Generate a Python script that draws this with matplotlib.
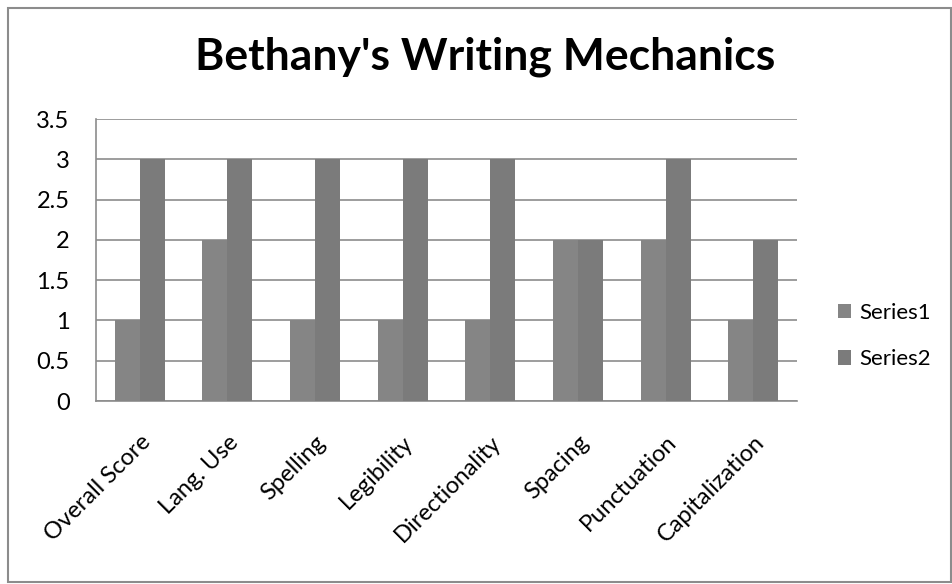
import matplotlib.pyplot as plt
import matplotlib.patches as patches
import numpy as np

categories = ["Overall Score", "Lang. Use", "Spelling", "Legibility",
              "Directionality", "Spacing", "Punctuation", "Capitalization"]
series1 = [1, 2, 1, 1, 1, 2, 2, 1]
series2 = [3, 3, 3, 3, 3, 2, 3, 2]
yticks = [0, 0.5, 1, 1.5, 2, 2.5, 3, 3.5]

plt.rcParams['font.family'] = ['Lato', 'DejaVu Sans']

W, H = 953, 584
fig = plt.figure(figsize=(W / 100, H / 100), dpi=100)
# plot area in pixels: left 96, right 797, top 119, bottom 401
ax = fig.add_axes([96 / W, 1 - 401 / H, 701 / W, 282 / H])

x = np.arange(len(categories))
w = 1 / 3.5
ax.bar(x - w / 2, series1, width=w, color='#858585', label='Series1', zorder=3)
ax.bar(x + w / 2, series2, width=w, color='#7b7b7b', label='Series2', zorder=3)

ax.set_xlim(-0.5, len(categories) - 0.5)
ax.set_ylim(0, 3.5)
ax.set_yticks(yticks)
ax.set_yticklabels([f"{v:g}" for v in yticks], fontsize=17)
ax.yaxis.grid(True, color='#8c8c8c', linewidth=1.2, zorder=0)
ax.set_xticks(x)
ax.set_xticklabels(categories, rotation=45, ha='right', va='top',
                   rotation_mode='anchor', fontsize=17)
ax.tick_params(axis='y', length=0, pad=19)
ax.tick_params(axis='x', length=0, pad=22)
for side in ['top', 'right']:
    ax.spines[side].set_visible(False)
for side in ['bottom', 'left']:
    ax.spines[side].set_color('#8c8c8c')
    ax.spines[side].set_linewidth(1.2)

fig.text(485 / W, 1 - 57 / H, "Bethany's Writing Mechanics",
         ha='center', va='center', fontsize=32, fontweight='bold')

fig.legend(loc='center left', bbox_to_anchor=(838 / W, 1 - 336 / H),
           frameon=False, fontsize=16, handlelength=0.6, handleheight=0.6,
           handletextpad=0.35, labelspacing=1.2, borderpad=0,
           borderaxespad=0)

fig.patches.append(patches.Rectangle((8 / W, 2 / H), 943 / W, 574 / H,
                                     transform=fig.transFigure, fill=False,
                                     edgecolor='#8c8c8c', linewidth=1.5))

fig.savefig('out.png', dpi=100)
plt.close('all')
